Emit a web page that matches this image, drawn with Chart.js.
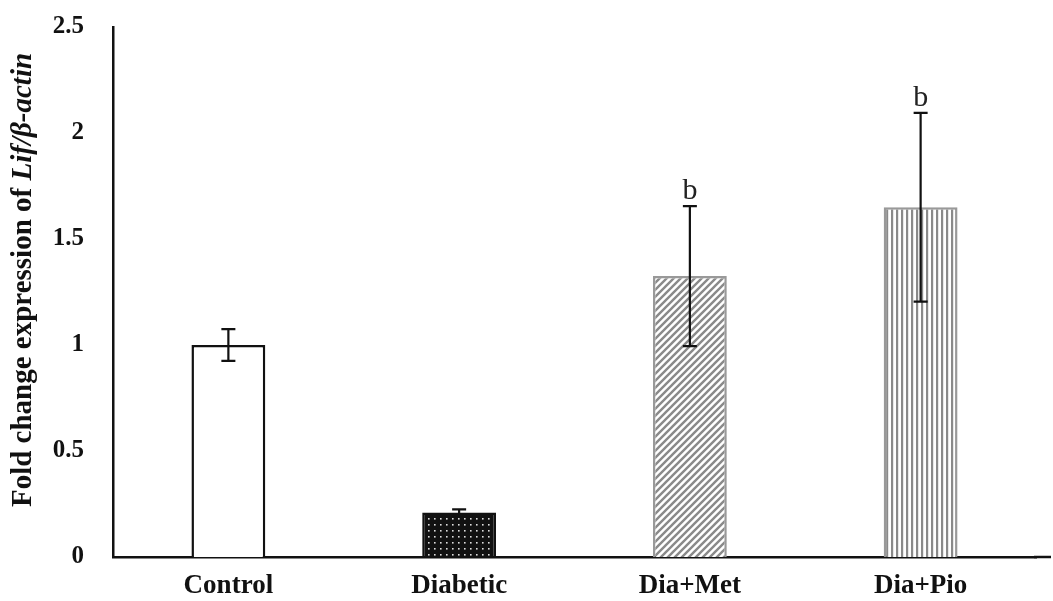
<!DOCTYPE html>
<html>
<head>
<meta charset="utf-8">
<script src="https://cdn.jsdelivr.net/npm/chart.js@4"></script>
<style>
  body { margin: 0; background: #fff; }
  #wrap { width: 1053px; height: 601px; }
</style>
</head>
<body>
<div id="wrap"><canvas id="lifChart"></canvas></div>
<script>
// data
const groups = ["Control", "Diabetic", "Dia+Met", "Dia+Pio"];
const foldChange = [1.0, 0.21, 1.325, 1.65];
const errors = [0.075, 0.015, 0.33, 0.445];
const sigLetters = ["", "", "b", "b"];
const yTicks = [0, 0.5, 1, 1.5, 2, 2.5];

// fill patterns for the bars
function makePattern(kind) {
    const c = document.createElement("canvas");
    const g = c.getContext("2d");
    if (kind === "dots") {
        c.width = 6; c.height = 6;
        g.fillStyle = "#111";
        g.fillRect(0, 0, 6, 6);
        g.fillStyle = "#ddd";
        g.fillRect(2, 2, 1.6, 1.6);
    } else if (kind === "diag") {
        c.width = 7; c.height = 7;
        g.fillStyle = "#fff";
        g.fillRect(0, 0, 7, 7);
        g.strokeStyle = "#8a8a8a";
        g.lineWidth = 2.4;
        g.beginPath();
        g.moveTo(-2, 9); g.lineTo(9, -2);
        g.moveTo(-2, 2); g.lineTo(2, -2);
        g.moveTo(5, 9); g.lineTo(9, 5);
        g.stroke();
    } else if (kind === "vert") {
        c.width = 5; c.height = 5;
        g.fillStyle = "#fff";
        g.fillRect(0, 0, 5, 5);
        g.fillStyle = "#8a8a8a";
        g.fillRect(1, 0, 2.2, 5);
    }
    return g.createPattern(c, "repeat");
}

const fills = ["#ffffff", makePattern("dots"), makePattern("diag"), makePattern("vert")];
const borders = ["#111", "#111", "#999", "#999"];

// error bars, letters, y title and axis extension
const extras = {
    id: "extras",
    afterDatasetsDraw(chart) {
        const ctx = chart.ctx;
        const x = chart.scales.x, y = chart.scales.y;
        ctx.save();
        ctx.strokeStyle = "#111";
        ctx.lineWidth = 2.2;
        groups.forEach((g, i) => {
            const cx = x.getPixelForValue(i);
            const top = y.getPixelForValue(foldChange[i] + errors[i]);
            const bot = y.getPixelForValue(foldChange[i] - errors[i]);
            ctx.beginPath();
            ctx.moveTo(cx, top); ctx.lineTo(cx, bot);
            ctx.moveTo(cx - 7, top); ctx.lineTo(cx + 7, top);
            ctx.moveTo(cx - 7, bot); ctx.lineTo(cx + 7, bot);
            ctx.stroke();
            if (sigLetters[i]) {
                ctx.fillStyle = "#222";
                ctx.font = "30px 'Liberation Serif'";
                ctx.textAlign = "center";
                ctx.textBaseline = "alphabetic";
                ctx.fillText(sigLetters[i], cx, top - 7);
            }
        });
        // x axis line runs a bit past the last category
        ctx.lineWidth = 2.5;
        ctx.beginPath();
        ctx.moveTo(chart.chartArea.right - 2, y.getPixelForValue(0));
        ctx.lineTo(1051, y.getPixelForValue(0));
        ctx.stroke();

        // rotated y title with italic gene name
        const part1 = "Fold change expression of ";
        const part2 = "Lif/\u03b2-actin";
        const f1 = "bold 29px 'Liberation Serif'";
        const f2 = "bold italic 29px 'Liberation Serif'";
        ctx.font = f1; const w1 = ctx.measureText(part1).width;
        ctx.font = f2; const w2 = ctx.measureText(part2).width;
        ctx.translate(24, 280);
        ctx.rotate(-Math.PI / 2);
        ctx.fillStyle = "#111";
        ctx.textAlign = "left";
        ctx.textBaseline = "middle";
        const start = -(w1 + w2) / 2;
        ctx.font = f1; ctx.fillText(part1, start, 0);
        ctx.font = f2; ctx.fillText(part2, start + w1, 0);
        ctx.restore();
    }
};

new Chart(document.getElementById("lifChart"), {
    type: "bar",
    data: {
        labels: groups,
        datasets: [
            {
                data: foldChange,
                backgroundColor: fills,
                borderColor: borders,
                borderWidth: 2.5,
                categoryPercentage: 1,
                barPercentage: 0.32,
            },
        ],
    },
    options: {
        responsive: true,
        maintainAspectRatio: false,
        animation: false,
        layout: { padding: { top: 27, right: 17, left: 0, bottom: 0 } },
        plugins: { legend: { display: false }, tooltip: { enabled: false } },
        scales: {
            x: {
                grid: { display: false, drawTicks: false },
                border: { color: "#111", width: 2.5 },
                ticks: {
                    color: "#111",
                    padding: 13,
                    font: { family: "'Liberation Serif'", size: 27, weight: "bold" },
                },
                afterFit(scale) { scale.height = 44; },
            },
            y: {
                min: 0,
                max: 2.5,
                grid: { display: false, drawTicks: false },
                border: { color: "#111", width: 2.5 },
                afterBuildTicks(scale) { scale.ticks = yTicks.map((v) => ({ value: v })); },
                ticks: {
                    color: "#111",
                    padding: 29,
                    callback: (v) => String(v),
                    font: { family: "'Liberation Serif'", size: 25, weight: "bold" },
                },
                afterFit(scale) {
                    scale.width = 113;
                    scale.paddingTop = 0;
                    scale.paddingBottom = 0;
                },
            },
        },
    },
    plugins: [extras],
});
</script>
</body>
</html>
